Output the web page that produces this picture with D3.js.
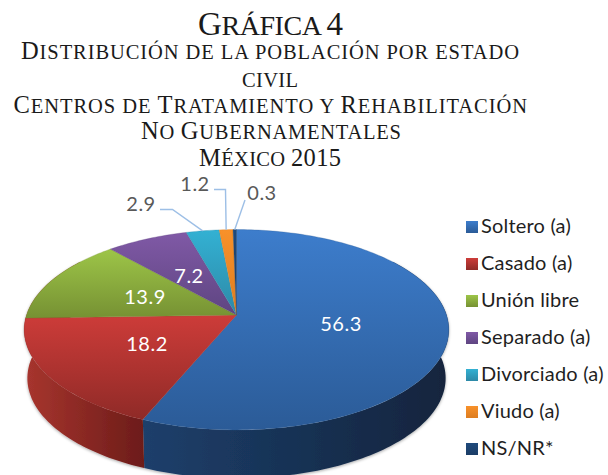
<!DOCTYPE html>
<html><head><meta charset="utf-8">
<script src="https://cdn.jsdelivr.net/npm/d3@7"></script>
<style>html,body{margin:0;padding:0;background:#fff}svg{display:block}</style>
</head><body><svg id="c" width="608" height="475"></svg>
<script>
const categories=["Soltero (a)","Casado (a)","Unión libre","Separado (a)","Divorciado (a)","Viudo (a)","NS/NR*"];
const values=[56.3,18.2,13.9,7.2,2.9,1.2,0.3];
const valueLabels=["56.3","18.2","13.9","7.2","2.9","1.2","0.3"];
const titleLines=["Gráfica 4","Distribución de la población por estado","civil","Centros de Tratamiento y Rehabilitación","No Gubernamentales","México 2015"];
const topColors=[["#3d7dcc","#2b5b97"],["#cd3c39","#8f2a27"],["#9dc548","#769133"],["#8059a6","#5e4581"],["#33b1d3","#2d89a7"],["#f8912a","#dd7d20"],["#1f4a7c","#1b3d66"]];
const wallColors=[["#1d3f6b","#12243d"],["#a8352e","#6c1c19"],["#6c8a30","#5c7628"],["#5a3f7c","#4c356a"],["#2a8099","#236d84"],["#c86f1b","#a85c15"],["#173a60","#173a60"]];

const svg=d3.select("#c");
const defs=svg.append("defs");
const cx=236.5,X=210,a=51.7,b=315,c=-0.147,depth=48.5,shrink=0.985;
const pie=d3.pie().sort(null).value(d=>d);
const arcs=pie(values);
function proj(t,r=1){const u=r*Math.sin(t),v=-r*Math.cos(t),w=1+c*v;return [cx+X*u/w,(a*v+b)/w];}
function low(t){const p=proj(t);return [cx+(p[0]-cx)*shrink,p[1]+depth];}
function samples(t0,t1){const n=Math.max(2,Math.ceil(Math.abs(t1-t0)/0.02));return d3.range(n+1).map(i=>t0+(t1-t0)*i/n);}
const line=d3.line();

const grad=(id,cols,vertical)=>{const g=defs.append("linearGradient").attr("id",id).attr("x1",0).attr("y1",0).attr("x2",vertical?0:1).attr("y2",vertical?1:0);
 g.append("stop").attr("offset",0).attr("stop-color",cols[0]);g.append("stop").attr("offset",1).attr("stop-color",cols[1]);};
topColors.forEach((k,i)=>grad("t"+i,k,true));
wallColors.forEach((k,i)=>grad("w"+i,k,false));
const sh=defs.append("filter").attr("id","sh").attr("x","-5%").attr("y","-5%").attr("width","110%").attr("height","115%");
sh.append("feDropShadow").attr("dx",0).attr("dy",1).attr("stdDeviation",1.6).attr("flood-color","#000").attr("flood-opacity",.35);

// walls: the slices that reach the front of the disc; the last of them runs on to the left silhouette
const wallMin=Math.PI*0.3,wallMax=Math.PI*1.7,wallCut=Math.PI*1.45;
const walls=svg.append("g").attr("filter","url(#sh)");
const front=arcs.filter(d=>d.startAngle<wallCut);
front.forEach((d,i)=>{const s=Math.max(d.startAngle,wallMin),e=i===front.length-1?wallMax:d.endAngle;
 const ts=samples(s,e);
 walls.append("path").attr("d",line(ts.map(t=>proj(t)).concat(ts.slice().reverse().map(low)))+"Z").attr("fill",`url(#w${d.index})`);
});
// top faces
svg.append("g").selectAll("path").data(arcs).join("path")
 .attr("d",d=>line([proj(0,0)].concat(samples(d.startAngle,d.endAngle).map(t=>proj(t))))+"Z")
 .attr("fill",(d,i)=>`url(#t${i})`).attr("stroke",(d,i)=>topColors[i][1]).attr("stroke-width",.3);

// title, drawn as large and small capitals
const serif="'Liberation Serif','DejaVu Serif',serif";
const titleLayout=[[198,343,35,33,28],[21,519,59,24.5,20.5],[242,298,87,24.5,20.5],[13.5,527,113,24.5,20.5],[141,401,139,24.5,20.5],[199,341,166,24.5,20.5]];
titleLines.forEach((s,i)=>{const [x0,x1,y,big,small]=titleLayout[i];
 const t=svg.append("text").attr("x",x0).attr("y",y).attr("textLength",x1-x0).attr("lengthAdjust","spacing")
  .attr("font-family",serif).attr("fill","#1a1a1a");
 const runs=[];for(const ch of s){const up=ch!==ch.toLowerCase()||/[0-9]/.test(ch);const sz=up?big:small;
  if(runs.length&&runs[runs.length-1].sz===sz)runs[runs.length-1].s+=ch;else runs.push({s:ch,sz});}
 runs.forEach(r=>t.append("tspan").attr("font-size",r.sz).text(r.s.toUpperCase()));
});

// data labels
const sans="Lato,'Noto Sans',sans-serif";
const inside=[[341,331],[147,351],[145,304],[189,283]];
svg.append("g").selectAll("text").data(valueLabels.slice(0,4)).join("text").text(d=>d)
 .attr("x",(d,i)=>inside[i][0]).attr("y",(d,i)=>inside[i][1]).attr("text-anchor","middle")
 .attr("font-family",sans).attr("font-size",20).attr("letter-spacing",.5).attr("fill","#fff");
const outside=[[141,211],[195,191],[262,200]];
svg.append("g").selectAll("text").data(valueLabels.slice(4)).join("text").text(d=>d)
 .attr("x",(d,i)=>outside[i][0]).attr("y",(d,i)=>outside[i][1]).attr("text-anchor","middle")
 .attr("font-family",sans).attr("font-size",20).attr("letter-spacing",.5).attr("fill","#595959");
// leaders anchored on the slice mid-angle rim
const elbows=[[[160,209.5],[172.5,209.5]],[[214,189.5],[225.5,189.5]],[[245,200]]];
arcs.slice(4).forEach((d,i)=>{const rim=proj((d.startAngle+d.endAngle)/2);
 svg.append("path").attr("d",line(elbows[i].concat([rim]))).attr("fill","none").attr("stroke","#9dbfe6").attr("stroke-width",1.4);});

// legend
const legY=d3.scalePoint().domain(categories).range([233,455]);
const leg=svg.append("g").selectAll("g").data(categories).join("g");
leg.append("rect").attr("x",466).attr("y",d=>legY(d)-12).attr("width",12).attr("height",12).attr("fill",(d,i)=>`url(#t${i})`);
leg.append("text").text(d=>d).attr("x",481).attr("y",d=>legY(d)).attr("font-family",sans).attr("font-size",20).attr("letter-spacing",.2).attr("fill","#1f1f1f");
</script></body></html>
